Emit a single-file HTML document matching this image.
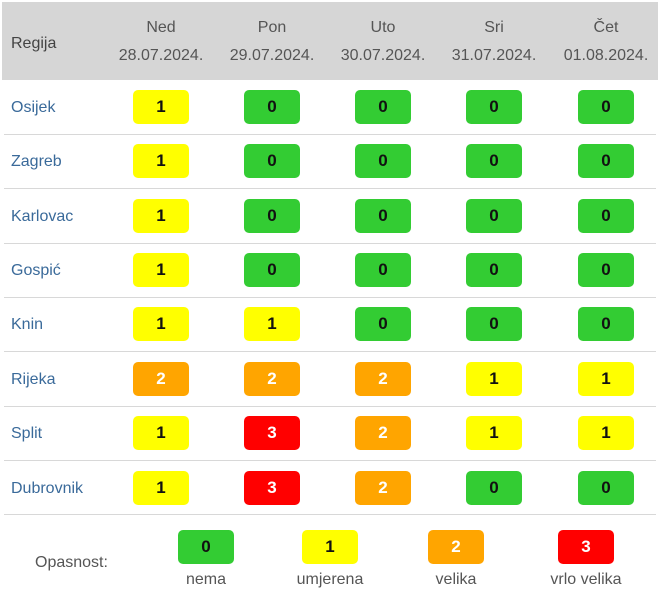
<!DOCTYPE html>
<html><head><meta charset="utf-8"><style>
body{margin:0;width:660px;height:595px;background:#fff;font-family:"Liberation Sans","DejaVu Sans",sans-serif;position:relative;overflow:hidden}
.hd{position:absolute;left:2px;top:2px;width:656px;height:78px;background:#d6d6d6}
.t{position:absolute;color:#555;font-size:16px;text-align:center;width:120px;margin-left:-60px}
.r{position:absolute;left:11px;color:#3a6a9a;font-size:16px}
.sep{position:absolute;left:4px;width:652px;height:1px;background:#d8d8d8}
.b{position:absolute;width:56px;height:34px;margin-left:-28px;margin-top:-17px;border-radius:5px;text-align:center;line-height:34px;font-weight:bold;font-size:17px;color:#111}
.g{background:#33cc33}.y{background:#ffff00}.o{background:#ffa500;color:#fff}.rd{background:#ff0000;color:#fff}
</style></head><body>
<div class="hd"></div>
<div class="r" style="top:35px;color:#444">Regija</div>
<div class="t" style="left:161px;top:19px">Ned</div><div class="t" style="left:161px;top:47px">28.07.2024.</div>
<div class="t" style="left:272px;top:19px">Pon</div><div class="t" style="left:272px;top:47px">29.07.2024.</div>
<div class="t" style="left:383px;top:19px">Uto</div><div class="t" style="left:383px;top:47px">30.07.2024.</div>
<div class="t" style="left:494px;top:19px">Sri</div><div class="t" style="left:494px;top:47px">31.07.2024.</div>
<div class="t" style="left:606px;top:19px">Čet</div><div class="t" style="left:606px;top:47px">01.08.2024.</div>

<div class="r" style="top:99px">Osijek</div>
<div class="b y" style="left:161px;top:107px">1</div><div class="b g" style="left:272px;top:107px">0</div><div class="b g" style="left:383px;top:107px">0</div><div class="b g" style="left:494px;top:107px">0</div><div class="b g" style="left:606px;top:107px">0</div>
<div class="sep" style="top:134px"></div>
<div class="r" style="top:153px">Zagreb</div>
<div class="b y" style="left:161px;top:161px">1</div><div class="b g" style="left:272px;top:161px">0</div><div class="b g" style="left:383px;top:161px">0</div><div class="b g" style="left:494px;top:161px">0</div><div class="b g" style="left:606px;top:161px">0</div>
<div class="sep" style="top:188px"></div>
<div class="r" style="top:208px">Karlovac</div>
<div class="b y" style="left:161px;top:216px">1</div><div class="b g" style="left:272px;top:216px">0</div><div class="b g" style="left:383px;top:216px">0</div><div class="b g" style="left:494px;top:216px">0</div><div class="b g" style="left:606px;top:216px">0</div>
<div class="sep" style="top:243px"></div>
<div class="r" style="top:262px">Gospić</div>
<div class="b y" style="left:161px;top:270px">1</div><div class="b g" style="left:272px;top:270px">0</div><div class="b g" style="left:383px;top:270px">0</div><div class="b g" style="left:494px;top:270px">0</div><div class="b g" style="left:606px;top:270px">0</div>
<div class="sep" style="top:297px"></div>
<div class="r" style="top:316px">Knin</div>
<div class="b y" style="left:161px;top:324px">1</div><div class="b y" style="left:272px;top:324px">1</div><div class="b g" style="left:383px;top:324px">0</div><div class="b g" style="left:494px;top:324px">0</div><div class="b g" style="left:606px;top:324px">0</div>
<div class="sep" style="top:351px"></div>
<div class="r" style="top:371px">Rijeka</div>
<div class="b o" style="left:161px;top:379px">2</div><div class="b o" style="left:272px;top:379px">2</div><div class="b o" style="left:383px;top:379px">2</div><div class="b y" style="left:494px;top:379px">1</div><div class="b y" style="left:606px;top:379px">1</div>
<div class="sep" style="top:406px"></div>
<div class="r" style="top:425px">Split</div>
<div class="b y" style="left:161px;top:433px">1</div><div class="b rd" style="left:272px;top:433px">3</div><div class="b o" style="left:383px;top:433px">2</div><div class="b y" style="left:494px;top:433px">1</div><div class="b y" style="left:606px;top:433px">1</div>
<div class="sep" style="top:460px"></div>
<div class="r" style="top:480px">Dubrovnik</div>
<div class="b y" style="left:161px;top:488px">1</div><div class="b rd" style="left:272px;top:488px">3</div><div class="b o" style="left:383px;top:488px">2</div><div class="b g" style="left:494px;top:488px">0</div><div class="b g" style="left:606px;top:488px">0</div>
<div class="sep" style="top:514px"></div>

<div class="r" style="left:35px;top:554px;color:#555">Opasnost:</div>
<div class="b g" style="left:206px;top:547px">0</div>
<div class="b y" style="left:330px;top:547px">1</div>
<div class="b o" style="left:456px;top:547px">2</div>
<div class="b rd" style="left:586px;top:547px">3</div>
<div class="t" style="left:206px;top:571px">nema</div>
<div class="t" style="left:330px;top:571px">umjerena</div>
<div class="t" style="left:456px;top:571px">velika</div>
<div class="t" style="left:586px;top:571px">vrlo velika</div>
</body></html>
